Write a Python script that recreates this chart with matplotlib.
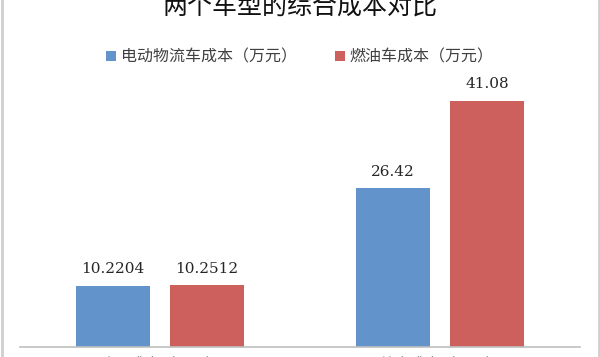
import matplotlib
matplotlib.use("Agg")
import matplotlib.pyplot as plt
from matplotlib.lines import Line2D
import numpy as np

plt.rcParams['font.family'] = ['Noto Sans CJK SC', 'DejaVu Sans']

categories = ["购置成本（万元）", "综合成本（万元）"]
series_names = ["电动物流车成本（万元）", "燃油车成本（万元）"]
ev_cost = [10.2204, 26.42]
fuel_cost = [10.2512, 41.08]
value_labels_ev = ["10.2204", "26.42"]
value_labels_fuel = ["10.2512", "41.08"]

blue = "#6294CB"
red = "#CD605C"

fig = plt.figure(figsize=(6, 3.57), dpi=100)
ax = fig.add_axes([20 / 600, 1 - 347 / 357, 560 / 600, 270 / 357])

x = np.arange(len(categories))
width = 0.264
offset = 0.168

bars_ev = ax.bar(x - offset, ev_cost, width, color=blue, label=series_names[0])
bars_fuel = ax.bar(x + offset, fuel_cost, width, color=red, label=series_names[1])

for bars, labels in [(bars_ev, value_labels_ev), (bars_fuel, value_labels_fuel)]:
    for b, txt in zip(bars, labels):
        ax.annotate(txt, (b.get_x() + b.get_width() / 2, b.get_height()),
                    xytext=(0, 7), textcoords="offset points",
                    ha="center", va="bottom", fontsize=11,
                    family="DejaVu Serif", color="#262626")

ax.set_xlim(-0.5, 1.5)
ax.set_ylim(0, 45)
ax.set_yticks([])
ax.set_xticks(x)
ax.set_xticklabels(categories, fontsize=11, color="#8C8C8C")
ax.tick_params(axis="x", length=0, pad=6.5)
for side in ["top", "left", "right"]:
    ax.spines[side].set_visible(False)
ax.spines["bottom"].set_color("#BFBFBF")
ax.spines["bottom"].set_linewidth(1.2)

fig.text(0.5, 1 - 14 / 357, "两个车型的综合成本对比", ha="center", va="baseline",
         fontsize=18, color="#111111", weight="medium")

fig.legend(loc="center", bbox_to_anchor=(0.5, 1 - 57 / 357), ncol=2,
           frameon=False, fontsize=11.5, handlelength=0.6, handleheight=0.6,
           handletextpad=0.3, columnspacing=2.4, labelcolor="#404040")

# left and right edges of the chart frame
for xf in [1.5 / 600, 598.5 / 600]:
    fig.add_artist(Line2D([xf, xf], [0, 1], transform=fig.transFigure,
                          color="#CFCFCF", linewidth=2))

fig.savefig("out.png", dpi=100)
